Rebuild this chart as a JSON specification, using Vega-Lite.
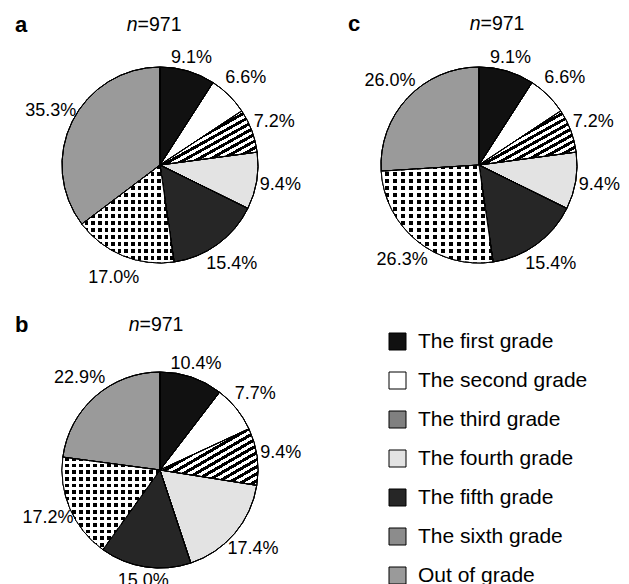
{
  "$schema": "https://vega.github.io/schema/vega-lite/v6.json",
  "background": "white",
  "padding": {"left": 15, "top": 13, "right": 0, "bottom": 0},
  "bounds": "flush",
  "columns": 2,
  "spacing": {"row": 109, "column": 123},
  "resolve": {
    "scale": {"color": "independent", "theta": "independent"},
    "legend": {"color": "independent"}
  },
  "config": {"view": {"stroke": null}, "font": "Liberation Sans"},
  "concat": [
    {
      "title": {"text": "a", "anchor": "start", "frame": "group", "font": "Liberation Sans", "fontSize": 22, "fontWeight": "bold", "color": "black", "dx": -47, "dy": 22, "offset": 0},
      "width": 196,
      "height": 196,
      "data": {"values": [
        {"grade": "The first grade", "ord": 1, "share": 0.091},
        {"grade": "The second grade", "ord": 2, "share": 0.066},
        {"grade": "The third grade", "ord": 3, "share": 0.072},
        {"grade": "The fourth grade", "ord": 4, "share": 0.094},
        {"grade": "The fifth grade", "ord": 5, "share": 0.154},
        {"grade": "The sixth grade", "ord": 6, "share": 0.170},
        {"grade": "Out of grade", "ord": 7, "share": 0.353}
      ]},
      "layer": [
        {
          "mark": {"type": "arc", "stroke": "black", "strokeWidth": 1},
          "encoding": {
            "theta": {"field": "share", "type": "quantitative", "stack": true},
            "order": {"field": "ord", "type": "quantitative"},
            "color": {"field": "grade", "type": "nominal", "legend": null,
              "scale": {"domain": ["The first grade","The second grade","The third grade","The fourth grade","The fifth grade","The sixth grade","Out of grade"],
                "range": ["#111111","#ffffff","#808080","#e3e3e3","#262626","#8c8c8c","#9a9a9a"]}}
          }
        },
        {
          "mark": {"type": "arc", "stroke": "black", "strokeWidth": 1},
          "encoding": {
            "theta": {"field": "share", "type": "quantitative", "stack": true},
            "order": {"field": "ord", "type": "quantitative"},
            "color": {"condition": [
              {"test": "datum.ord === 3", "value": {"gradient": "linear", "x1": 0, "y1": 0, "x2": 1, "y2": 1, "stops": [{"offset":0,"color":"#000"},{"offset":0.03125,"color":"#000"},{"offset":0.03125,"color":"#fff"},{"offset":0.0625,"color":"#fff"},{"offset":0.0625,"color":"#000"},{"offset":0.09375,"color":"#000"},{"offset":0.09375,"color":"#fff"},{"offset":0.125,"color":"#fff"},{"offset":0.125,"color":"#000"},{"offset":0.15625,"color":"#000"},{"offset":0.15625,"color":"#fff"},{"offset":0.1875,"color":"#fff"},{"offset":0.1875,"color":"#000"},{"offset":0.21875,"color":"#000"},{"offset":0.21875,"color":"#fff"},{"offset":0.25,"color":"#fff"},{"offset":0.25,"color":"#000"},{"offset":0.28125,"color":"#000"},{"offset":0.28125,"color":"#fff"},{"offset":0.3125,"color":"#fff"},{"offset":0.3125,"color":"#000"},{"offset":0.34375,"color":"#000"},{"offset":0.34375,"color":"#fff"},{"offset":0.375,"color":"#fff"},{"offset":0.375,"color":"#000"},{"offset":0.40625,"color":"#000"},{"offset":0.40625,"color":"#fff"},{"offset":0.4375,"color":"#fff"},{"offset":0.4375,"color":"#000"},{"offset":0.46875,"color":"#000"},{"offset":0.46875,"color":"#fff"},{"offset":0.5,"color":"#fff"},{"offset":0.5,"color":"#000"},{"offset":0.53125,"color":"#000"},{"offset":0.53125,"color":"#fff"},{"offset":0.5625,"color":"#fff"},{"offset":0.5625,"color":"#000"},{"offset":0.59375,"color":"#000"},{"offset":0.59375,"color":"#fff"},{"offset":0.625,"color":"#fff"},{"offset":0.625,"color":"#000"},{"offset":0.65625,"color":"#000"},{"offset":0.65625,"color":"#fff"},{"offset":0.6875,"color":"#fff"},{"offset":0.6875,"color":"#000"},{"offset":0.71875,"color":"#000"},{"offset":0.71875,"color":"#fff"},{"offset":0.75,"color":"#fff"},{"offset":0.75,"color":"#000"},{"offset":0.78125,"color":"#000"},{"offset":0.78125,"color":"#fff"},{"offset":0.8125,"color":"#fff"},{"offset":0.8125,"color":"#000"},{"offset":0.84375,"color":"#000"},{"offset":0.84375,"color":"#fff"},{"offset":0.875,"color":"#fff"},{"offset":0.875,"color":"#000"},{"offset":0.90625,"color":"#000"},{"offset":0.90625,"color":"#fff"},{"offset":0.9375,"color":"#fff"},{"offset":0.9375,"color":"#000"},{"offset":0.96875,"color":"#000"},{"offset":0.96875,"color":"#fff"},{"offset":1,"color":"#fff"}]}},
              {"test": "datum.ord === 6", "value": {"gradient": "linear", "x1": 0, "y1": 0, "x2": 0, "y2": 1, "stops": [{"offset":0,"color":"#000"},{"offset":0.039286,"color":"#000"},{"offset":0.039286,"color":"#fff"},{"offset":0.071429,"color":"#fff"},{"offset":0.071429,"color":"#000"},{"offset":0.110714,"color":"#000"},{"offset":0.110714,"color":"#fff"},{"offset":0.142857,"color":"#fff"},{"offset":0.142857,"color":"#000"},{"offset":0.182143,"color":"#000"},{"offset":0.182143,"color":"#fff"},{"offset":0.214286,"color":"#fff"},{"offset":0.214286,"color":"#000"},{"offset":0.253571,"color":"#000"},{"offset":0.253571,"color":"#fff"},{"offset":0.285714,"color":"#fff"},{"offset":0.285714,"color":"#000"},{"offset":0.325,"color":"#000"},{"offset":0.325,"color":"#fff"},{"offset":0.357143,"color":"#fff"},{"offset":0.357143,"color":"#000"},{"offset":0.396429,"color":"#000"},{"offset":0.396429,"color":"#fff"},{"offset":0.428571,"color":"#fff"},{"offset":0.428571,"color":"#000"},{"offset":0.467857,"color":"#000"},{"offset":0.467857,"color":"#fff"},{"offset":0.5,"color":"#fff"},{"offset":0.5,"color":"#000"},{"offset":0.539286,"color":"#000"},{"offset":0.539286,"color":"#fff"},{"offset":0.571429,"color":"#fff"},{"offset":0.571429,"color":"#000"},{"offset":0.610714,"color":"#000"},{"offset":0.610714,"color":"#fff"},{"offset":0.642857,"color":"#fff"},{"offset":0.642857,"color":"#000"},{"offset":0.682143,"color":"#000"},{"offset":0.682143,"color":"#fff"},{"offset":0.714286,"color":"#fff"},{"offset":0.714286,"color":"#000"},{"offset":0.753571,"color":"#000"},{"offset":0.753571,"color":"#fff"},{"offset":0.785714,"color":"#fff"},{"offset":0.785714,"color":"#000"},{"offset":0.825,"color":"#000"},{"offset":0.825,"color":"#fff"},{"offset":0.857143,"color":"#fff"},{"offset":0.857143,"color":"#000"},{"offset":0.896429,"color":"#000"},{"offset":0.896429,"color":"#fff"},{"offset":0.928571,"color":"#fff"},{"offset":0.928571,"color":"#000"},{"offset":0.967857,"color":"#000"},{"offset":0.967857,"color":"#fff"},{"offset":1,"color":"#fff"}]}}
            ], "value": "rgba(255,255,255,0)"}
          }
        },
        {
          "mark": {"type": "arc", "stroke": "black", "strokeWidth": 1},
          "encoding": {
            "theta": {"field": "share", "type": "quantitative", "stack": true},
            "order": {"field": "ord", "type": "quantitative"},
            "color": {"condition": {"test": "datum.ord === 6", "value": {"gradient": "linear", "x1": 0, "y1": 0, "x2": 1, "y2": 0, "stops": [{"offset":0,"color":"#fff"},{"offset":0.032143,"color":"#fff"},{"offset":0.032143,"color":"rgba(255,255,255,0)"},{"offset":0.071429,"color":"rgba(255,255,255,0)"},{"offset":0.071429,"color":"#fff"},{"offset":0.103571,"color":"#fff"},{"offset":0.103571,"color":"rgba(255,255,255,0)"},{"offset":0.142857,"color":"rgba(255,255,255,0)"},{"offset":0.142857,"color":"#fff"},{"offset":0.175,"color":"#fff"},{"offset":0.175,"color":"rgba(255,255,255,0)"},{"offset":0.214286,"color":"rgba(255,255,255,0)"},{"offset":0.214286,"color":"#fff"},{"offset":0.246429,"color":"#fff"},{"offset":0.246429,"color":"rgba(255,255,255,0)"},{"offset":0.285714,"color":"rgba(255,255,255,0)"},{"offset":0.285714,"color":"#fff"},{"offset":0.317857,"color":"#fff"},{"offset":0.317857,"color":"rgba(255,255,255,0)"},{"offset":0.357143,"color":"rgba(255,255,255,0)"},{"offset":0.357143,"color":"#fff"},{"offset":0.389286,"color":"#fff"},{"offset":0.389286,"color":"rgba(255,255,255,0)"},{"offset":0.428571,"color":"rgba(255,255,255,0)"},{"offset":0.428571,"color":"#fff"},{"offset":0.460714,"color":"#fff"},{"offset":0.460714,"color":"rgba(255,255,255,0)"},{"offset":0.5,"color":"rgba(255,255,255,0)"},{"offset":0.5,"color":"#fff"},{"offset":0.532143,"color":"#fff"},{"offset":0.532143,"color":"rgba(255,255,255,0)"},{"offset":0.571429,"color":"rgba(255,255,255,0)"},{"offset":0.571429,"color":"#fff"},{"offset":0.603571,"color":"#fff"},{"offset":0.603571,"color":"rgba(255,255,255,0)"},{"offset":0.642857,"color":"rgba(255,255,255,0)"},{"offset":0.642857,"color":"#fff"},{"offset":0.675,"color":"#fff"},{"offset":0.675,"color":"rgba(255,255,255,0)"},{"offset":0.714286,"color":"rgba(255,255,255,0)"},{"offset":0.714286,"color":"#fff"},{"offset":0.746429,"color":"#fff"},{"offset":0.746429,"color":"rgba(255,255,255,0)"},{"offset":0.785714,"color":"rgba(255,255,255,0)"},{"offset":0.785714,"color":"#fff"},{"offset":0.817857,"color":"#fff"},{"offset":0.817857,"color":"rgba(255,255,255,0)"},{"offset":0.857143,"color":"rgba(255,255,255,0)"},{"offset":0.857143,"color":"#fff"},{"offset":0.889286,"color":"#fff"},{"offset":0.889286,"color":"rgba(255,255,255,0)"},{"offset":0.928571,"color":"rgba(255,255,255,0)"},{"offset":0.928571,"color":"#fff"},{"offset":0.960714,"color":"#fff"},{"offset":0.960714,"color":"rgba(255,255,255,0)"},{"offset":1,"color":"rgba(255,255,255,0)"}]}}, "value": "rgba(255,255,255,0)"}
          }
        },
        {
          "mark": {"type": "text", "radius": 122, "fontSize": 18, "font": "Liberation Sans", "color": "black"},
          "encoding": {
            "theta": {"field": "share", "type": "quantitative", "stack": true},
            "order": {"field": "ord", "type": "quantitative"},
            "text": {"field": "share", "type": "quantitative", "format": ".1%"},
            "opacity": {"condition": {"test": "abs(cos(PI * (datum.share_start + datum.share_end))) > 0.94", "value": 0}, "value": 1}
          }
        },
        {
          "mark": {"type": "text", "radius": 112, "fontSize": 18, "font": "Liberation Sans", "color": "black"},
          "encoding": {
            "theta": {"field": "share", "type": "quantitative", "stack": true},
            "order": {"field": "ord", "type": "quantitative"},
            "text": {"field": "share", "type": "quantitative", "format": ".1%"},
            "opacity": {"condition": {"test": "abs(cos(PI * (datum.share_start + datum.share_end))) > 0.94", "value": 1}, "value": 0}
          }
        },
        {
          "data": {"values": [{"sym": "n", "val": "=971"}]},
          "layer": [
            {"mark": {"type": "text", "align": "right", "fontStyle": "italic", "fontSize": 19.5, "font": "Liberation Sans", "color": "black"},
             "encoding": {"text": {"field": "sym"}, "theta": {"value": -0.159}, "radius": {"value": 141.8}}},
            {"mark": {"type": "text", "align": "left", "fontSize": 19.5, "font": "Liberation Sans", "color": "black"},
             "encoding": {"text": {"field": "val"}, "theta": {"value": -0.159}, "radius": {"value": 141.8}}}
          ]
        }
      ]
    },
    {
      "title": {"text": "c", "anchor": "start", "frame": "group", "font": "Liberation Sans", "fontSize": 22, "fontWeight": "bold", "color": "black", "dx": -33, "dy": 22, "offset": 0},
      "width": 196,
      "height": 196,
      "data": {"values": [
        {"grade": "The first grade", "ord": 1, "share": 0.091},
        {"grade": "The second grade", "ord": 2, "share": 0.066},
        {"grade": "The third grade", "ord": 3, "share": 0.072},
        {"grade": "The fourth grade", "ord": 4, "share": 0.094},
        {"grade": "The fifth grade", "ord": 5, "share": 0.154},
        {"grade": "The sixth grade", "ord": 6, "share": 0.263},
        {"grade": "Out of grade", "ord": 7, "share": 0.260}
      ]},
      "layer": [
        {
          "mark": {"type": "arc", "stroke": "black", "strokeWidth": 1},
          "encoding": {
            "theta": {"field": "share", "type": "quantitative", "stack": true},
            "order": {"field": "ord", "type": "quantitative"},
            "color": {"field": "grade", "type": "nominal", "legend": null,
              "scale": {"domain": ["The first grade","The second grade","The third grade","The fourth grade","The fifth grade","The sixth grade","Out of grade"],
                "range": ["#111111","#ffffff","#808080","#e3e3e3","#262626","#8c8c8c","#9a9a9a"]}}
          }
        },
        {
          "mark": {"type": "arc", "stroke": "black", "strokeWidth": 1},
          "encoding": {
            "theta": {"field": "share", "type": "quantitative", "stack": true},
            "order": {"field": "ord", "type": "quantitative"},
            "color": {"condition": [
              {"test": "datum.ord === 3", "value": {"gradient": "linear", "x1": 0, "y1": 0, "x2": 1, "y2": 1, "stops": [{"offset":0,"color":"#000"},{"offset":0.03125,"color":"#000"},{"offset":0.03125,"color":"#fff"},{"offset":0.0625,"color":"#fff"},{"offset":0.0625,"color":"#000"},{"offset":0.09375,"color":"#000"},{"offset":0.09375,"color":"#fff"},{"offset":0.125,"color":"#fff"},{"offset":0.125,"color":"#000"},{"offset":0.15625,"color":"#000"},{"offset":0.15625,"color":"#fff"},{"offset":0.1875,"color":"#fff"},{"offset":0.1875,"color":"#000"},{"offset":0.21875,"color":"#000"},{"offset":0.21875,"color":"#fff"},{"offset":0.25,"color":"#fff"},{"offset":0.25,"color":"#000"},{"offset":0.28125,"color":"#000"},{"offset":0.28125,"color":"#fff"},{"offset":0.3125,"color":"#fff"},{"offset":0.3125,"color":"#000"},{"offset":0.34375,"color":"#000"},{"offset":0.34375,"color":"#fff"},{"offset":0.375,"color":"#fff"},{"offset":0.375,"color":"#000"},{"offset":0.40625,"color":"#000"},{"offset":0.40625,"color":"#fff"},{"offset":0.4375,"color":"#fff"},{"offset":0.4375,"color":"#000"},{"offset":0.46875,"color":"#000"},{"offset":0.46875,"color":"#fff"},{"offset":0.5,"color":"#fff"},{"offset":0.5,"color":"#000"},{"offset":0.53125,"color":"#000"},{"offset":0.53125,"color":"#fff"},{"offset":0.5625,"color":"#fff"},{"offset":0.5625,"color":"#000"},{"offset":0.59375,"color":"#000"},{"offset":0.59375,"color":"#fff"},{"offset":0.625,"color":"#fff"},{"offset":0.625,"color":"#000"},{"offset":0.65625,"color":"#000"},{"offset":0.65625,"color":"#fff"},{"offset":0.6875,"color":"#fff"},{"offset":0.6875,"color":"#000"},{"offset":0.71875,"color":"#000"},{"offset":0.71875,"color":"#fff"},{"offset":0.75,"color":"#fff"},{"offset":0.75,"color":"#000"},{"offset":0.78125,"color":"#000"},{"offset":0.78125,"color":"#fff"},{"offset":0.8125,"color":"#fff"},{"offset":0.8125,"color":"#000"},{"offset":0.84375,"color":"#000"},{"offset":0.84375,"color":"#fff"},{"offset":0.875,"color":"#fff"},{"offset":0.875,"color":"#000"},{"offset":0.90625,"color":"#000"},{"offset":0.90625,"color":"#fff"},{"offset":0.9375,"color":"#fff"},{"offset":0.9375,"color":"#000"},{"offset":0.96875,"color":"#000"},{"offset":0.96875,"color":"#fff"},{"offset":1,"color":"#fff"}]}},
              {"test": "datum.ord === 6", "value": {"gradient": "linear", "x1": 0, "y1": 0, "x2": 0, "y2": 1, "stops": [{"offset":0,"color":"#000"},{"offset":0.039286,"color":"#000"},{"offset":0.039286,"color":"#fff"},{"offset":0.071429,"color":"#fff"},{"offset":0.071429,"color":"#000"},{"offset":0.110714,"color":"#000"},{"offset":0.110714,"color":"#fff"},{"offset":0.142857,"color":"#fff"},{"offset":0.142857,"color":"#000"},{"offset":0.182143,"color":"#000"},{"offset":0.182143,"color":"#fff"},{"offset":0.214286,"color":"#fff"},{"offset":0.214286,"color":"#000"},{"offset":0.253571,"color":"#000"},{"offset":0.253571,"color":"#fff"},{"offset":0.285714,"color":"#fff"},{"offset":0.285714,"color":"#000"},{"offset":0.325,"color":"#000"},{"offset":0.325,"color":"#fff"},{"offset":0.357143,"color":"#fff"},{"offset":0.357143,"color":"#000"},{"offset":0.396429,"color":"#000"},{"offset":0.396429,"color":"#fff"},{"offset":0.428571,"color":"#fff"},{"offset":0.428571,"color":"#000"},{"offset":0.467857,"color":"#000"},{"offset":0.467857,"color":"#fff"},{"offset":0.5,"color":"#fff"},{"offset":0.5,"color":"#000"},{"offset":0.539286,"color":"#000"},{"offset":0.539286,"color":"#fff"},{"offset":0.571429,"color":"#fff"},{"offset":0.571429,"color":"#000"},{"offset":0.610714,"color":"#000"},{"offset":0.610714,"color":"#fff"},{"offset":0.642857,"color":"#fff"},{"offset":0.642857,"color":"#000"},{"offset":0.682143,"color":"#000"},{"offset":0.682143,"color":"#fff"},{"offset":0.714286,"color":"#fff"},{"offset":0.714286,"color":"#000"},{"offset":0.753571,"color":"#000"},{"offset":0.753571,"color":"#fff"},{"offset":0.785714,"color":"#fff"},{"offset":0.785714,"color":"#000"},{"offset":0.825,"color":"#000"},{"offset":0.825,"color":"#fff"},{"offset":0.857143,"color":"#fff"},{"offset":0.857143,"color":"#000"},{"offset":0.896429,"color":"#000"},{"offset":0.896429,"color":"#fff"},{"offset":0.928571,"color":"#fff"},{"offset":0.928571,"color":"#000"},{"offset":0.967857,"color":"#000"},{"offset":0.967857,"color":"#fff"},{"offset":1,"color":"#fff"}]}}
            ], "value": "rgba(255,255,255,0)"}
          }
        },
        {
          "mark": {"type": "arc", "stroke": "black", "strokeWidth": 1},
          "encoding": {
            "theta": {"field": "share", "type": "quantitative", "stack": true},
            "order": {"field": "ord", "type": "quantitative"},
            "color": {"condition": {"test": "datum.ord === 6", "value": {"gradient": "linear", "x1": 0, "y1": 0, "x2": 1, "y2": 0, "stops": [{"offset":0,"color":"#fff"},{"offset":0.032143,"color":"#fff"},{"offset":0.032143,"color":"rgba(255,255,255,0)"},{"offset":0.071429,"color":"rgba(255,255,255,0)"},{"offset":0.071429,"color":"#fff"},{"offset":0.103571,"color":"#fff"},{"offset":0.103571,"color":"rgba(255,255,255,0)"},{"offset":0.142857,"color":"rgba(255,255,255,0)"},{"offset":0.142857,"color":"#fff"},{"offset":0.175,"color":"#fff"},{"offset":0.175,"color":"rgba(255,255,255,0)"},{"offset":0.214286,"color":"rgba(255,255,255,0)"},{"offset":0.214286,"color":"#fff"},{"offset":0.246429,"color":"#fff"},{"offset":0.246429,"color":"rgba(255,255,255,0)"},{"offset":0.285714,"color":"rgba(255,255,255,0)"},{"offset":0.285714,"color":"#fff"},{"offset":0.317857,"color":"#fff"},{"offset":0.317857,"color":"rgba(255,255,255,0)"},{"offset":0.357143,"color":"rgba(255,255,255,0)"},{"offset":0.357143,"color":"#fff"},{"offset":0.389286,"color":"#fff"},{"offset":0.389286,"color":"rgba(255,255,255,0)"},{"offset":0.428571,"color":"rgba(255,255,255,0)"},{"offset":0.428571,"color":"#fff"},{"offset":0.460714,"color":"#fff"},{"offset":0.460714,"color":"rgba(255,255,255,0)"},{"offset":0.5,"color":"rgba(255,255,255,0)"},{"offset":0.5,"color":"#fff"},{"offset":0.532143,"color":"#fff"},{"offset":0.532143,"color":"rgba(255,255,255,0)"},{"offset":0.571429,"color":"rgba(255,255,255,0)"},{"offset":0.571429,"color":"#fff"},{"offset":0.603571,"color":"#fff"},{"offset":0.603571,"color":"rgba(255,255,255,0)"},{"offset":0.642857,"color":"rgba(255,255,255,0)"},{"offset":0.642857,"color":"#fff"},{"offset":0.675,"color":"#fff"},{"offset":0.675,"color":"rgba(255,255,255,0)"},{"offset":0.714286,"color":"rgba(255,255,255,0)"},{"offset":0.714286,"color":"#fff"},{"offset":0.746429,"color":"#fff"},{"offset":0.746429,"color":"rgba(255,255,255,0)"},{"offset":0.785714,"color":"rgba(255,255,255,0)"},{"offset":0.785714,"color":"#fff"},{"offset":0.817857,"color":"#fff"},{"offset":0.817857,"color":"rgba(255,255,255,0)"},{"offset":0.857143,"color":"rgba(255,255,255,0)"},{"offset":0.857143,"color":"#fff"},{"offset":0.889286,"color":"#fff"},{"offset":0.889286,"color":"rgba(255,255,255,0)"},{"offset":0.928571,"color":"rgba(255,255,255,0)"},{"offset":0.928571,"color":"#fff"},{"offset":0.960714,"color":"#fff"},{"offset":0.960714,"color":"rgba(255,255,255,0)"},{"offset":1,"color":"rgba(255,255,255,0)"}]}}, "value": "rgba(255,255,255,0)"}
          }
        },
        {
          "mark": {"type": "text", "radius": 122, "fontSize": 18, "font": "Liberation Sans", "color": "black"},
          "encoding": {
            "theta": {"field": "share", "type": "quantitative", "stack": true},
            "order": {"field": "ord", "type": "quantitative"},
            "text": {"field": "share", "type": "quantitative", "format": ".1%"},
            "opacity": {"condition": {"test": "abs(cos(PI * (datum.share_start + datum.share_end))) > 0.94", "value": 0}, "value": 1}
          }
        },
        {
          "mark": {"type": "text", "radius": 112, "fontSize": 18, "font": "Liberation Sans", "color": "black"},
          "encoding": {
            "theta": {"field": "share", "type": "quantitative", "stack": true},
            "order": {"field": "ord", "type": "quantitative"},
            "text": {"field": "share", "type": "quantitative", "format": ".1%"},
            "opacity": {"condition": {"test": "abs(cos(PI * (datum.share_start + datum.share_end))) > 0.94", "value": 1}, "value": 0}
          }
        },
        {
          "data": {"values": [{"sym": "n", "val": "=971"}]},
          "layer": [
            {"mark": {"type": "text", "align": "right", "fontStyle": "italic", "fontSize": 19.5, "font": "Liberation Sans", "color": "black"},
             "encoding": {"text": {"field": "sym"}, "theta": {"value": 0.0106}, "radius": {"value": 141}}},
            {"mark": {"type": "text", "align": "left", "fontSize": 19.5, "font": "Liberation Sans", "color": "black"},
             "encoding": {"text": {"field": "val"}, "theta": {"value": 0.0106}, "radius": {"value": 141}}}
          ]
        }
      ]
    },
    {
      "title": {"text": "b", "anchor": "start", "frame": "group", "font": "Liberation Sans", "fontSize": 22, "fontWeight": "bold", "color": "black", "dx": -47, "dy": 22, "offset": 0},
      "width": 196,
      "height": 196,
      "data": {"values": [
        {"grade": "The first grade", "ord": 1, "share": 0.104},
        {"grade": "The second grade", "ord": 2, "share": 0.077},
        {"grade": "The third grade", "ord": 3, "share": 0.094},
        {"grade": "The fourth grade", "ord": 4, "share": 0.174},
        {"grade": "The fifth grade", "ord": 5, "share": 0.150},
        {"grade": "The sixth grade", "ord": 6, "share": 0.172},
        {"grade": "Out of grade", "ord": 7, "share": 0.229}
      ]},
      "layer": [
        {
          "mark": {"type": "arc", "stroke": "black", "strokeWidth": 1},
          "encoding": {
            "theta": {"field": "share", "type": "quantitative", "stack": true},
            "order": {"field": "ord", "type": "quantitative"},
            "color": {"field": "grade", "type": "nominal",
              "legend": {"orient": "none", "legendX": 325, "legendY": -41, "title": null, "symbolType": "square", "symbolSize": 289, "symbolStrokeColor": "black", "symbolStrokeWidth": 1, "labelFontSize": 21, "labelFont": "Liberation Sans", "labelColor": "black", "labelOffset": 10, "rowPadding": 17, "labelLimit": 0,
                "encode": {"symbols": {"update": {
                  "stroke": {"value": "black"},
                  "strokeWidth": {"value": 1},
                  "opacity": {"value": 1},
                  "fill": [
                  {"test": "datum.value === 'The first grade'", "value": "#111111"},
                  {"test": "datum.value === 'The second grade'", "value": "#ffffff"},
                  {"test": "datum.value === 'The third grade'", "value": {"gradient": "linear", "x1": 0, "y1": 0, "x2": 1, "y2": 1, "stops": [{"offset":0,"color":"#000"},{"offset":0.0625,"color":"#000"},{"offset":0.0625,"color":"#fff"},{"offset":0.125,"color":"#fff"},{"offset":0.125,"color":"#000"},{"offset":0.1875,"color":"#000"},{"offset":0.1875,"color":"#fff"},{"offset":0.25,"color":"#fff"},{"offset":0.25,"color":"#000"},{"offset":0.3125,"color":"#000"},{"offset":0.3125,"color":"#fff"},{"offset":0.375,"color":"#fff"},{"offset":0.375,"color":"#000"},{"offset":0.4375,"color":"#000"},{"offset":0.4375,"color":"#fff"},{"offset":0.5,"color":"#fff"},{"offset":0.5,"color":"#000"},{"offset":0.5625,"color":"#000"},{"offset":0.5625,"color":"#fff"},{"offset":0.625,"color":"#fff"},{"offset":0.625,"color":"#000"},{"offset":0.6875,"color":"#000"},{"offset":0.6875,"color":"#fff"},{"offset":0.75,"color":"#fff"},{"offset":0.75,"color":"#000"},{"offset":0.8125,"color":"#000"},{"offset":0.8125,"color":"#fff"},{"offset":0.875,"color":"#fff"},{"offset":0.875,"color":"#000"},{"offset":0.9375,"color":"#000"},{"offset":0.9375,"color":"#fff"},{"offset":1,"color":"#fff"}]}},
                  {"test": "datum.value === 'The fourth grade'", "value": "#e3e3e3"},
                  {"test": "datum.value === 'The fifth grade'", "value": "#262626"},
                  {"test": "datum.value === 'The sixth grade'", "value": "#8c8c8c"},
                  {"value": "#9a9a9a"}
                ]}}}},
              "scale": {"domain": ["The first grade","The second grade","The third grade","The fourth grade","The fifth grade","The sixth grade","Out of grade"],
                "range": ["#111111","#ffffff","#808080","#e3e3e3","#262626","#8c8c8c","#9a9a9a"]}}
          }
        },
        {
          "mark": {"type": "arc", "stroke": "black", "strokeWidth": 1},
          "encoding": {
            "theta": {"field": "share", "type": "quantitative", "stack": true},
            "order": {"field": "ord", "type": "quantitative"},
            "color": {"condition": [
              {"test": "datum.ord === 3", "value": {"gradient": "linear", "x1": 0, "y1": 0, "x2": 1, "y2": 1, "stops": [{"offset":0,"color":"#000"},{"offset":0.03125,"color":"#000"},{"offset":0.03125,"color":"#fff"},{"offset":0.0625,"color":"#fff"},{"offset":0.0625,"color":"#000"},{"offset":0.09375,"color":"#000"},{"offset":0.09375,"color":"#fff"},{"offset":0.125,"color":"#fff"},{"offset":0.125,"color":"#000"},{"offset":0.15625,"color":"#000"},{"offset":0.15625,"color":"#fff"},{"offset":0.1875,"color":"#fff"},{"offset":0.1875,"color":"#000"},{"offset":0.21875,"color":"#000"},{"offset":0.21875,"color":"#fff"},{"offset":0.25,"color":"#fff"},{"offset":0.25,"color":"#000"},{"offset":0.28125,"color":"#000"},{"offset":0.28125,"color":"#fff"},{"offset":0.3125,"color":"#fff"},{"offset":0.3125,"color":"#000"},{"offset":0.34375,"color":"#000"},{"offset":0.34375,"color":"#fff"},{"offset":0.375,"color":"#fff"},{"offset":0.375,"color":"#000"},{"offset":0.40625,"color":"#000"},{"offset":0.40625,"color":"#fff"},{"offset":0.4375,"color":"#fff"},{"offset":0.4375,"color":"#000"},{"offset":0.46875,"color":"#000"},{"offset":0.46875,"color":"#fff"},{"offset":0.5,"color":"#fff"},{"offset":0.5,"color":"#000"},{"offset":0.53125,"color":"#000"},{"offset":0.53125,"color":"#fff"},{"offset":0.5625,"color":"#fff"},{"offset":0.5625,"color":"#000"},{"offset":0.59375,"color":"#000"},{"offset":0.59375,"color":"#fff"},{"offset":0.625,"color":"#fff"},{"offset":0.625,"color":"#000"},{"offset":0.65625,"color":"#000"},{"offset":0.65625,"color":"#fff"},{"offset":0.6875,"color":"#fff"},{"offset":0.6875,"color":"#000"},{"offset":0.71875,"color":"#000"},{"offset":0.71875,"color":"#fff"},{"offset":0.75,"color":"#fff"},{"offset":0.75,"color":"#000"},{"offset":0.78125,"color":"#000"},{"offset":0.78125,"color":"#fff"},{"offset":0.8125,"color":"#fff"},{"offset":0.8125,"color":"#000"},{"offset":0.84375,"color":"#000"},{"offset":0.84375,"color":"#fff"},{"offset":0.875,"color":"#fff"},{"offset":0.875,"color":"#000"},{"offset":0.90625,"color":"#000"},{"offset":0.90625,"color":"#fff"},{"offset":0.9375,"color":"#fff"},{"offset":0.9375,"color":"#000"},{"offset":0.96875,"color":"#000"},{"offset":0.96875,"color":"#fff"},{"offset":1,"color":"#fff"}]}},
              {"test": "datum.ord === 6", "value": {"gradient": "linear", "x1": 0, "y1": 0, "x2": 0, "y2": 1, "stops": [{"offset":0,"color":"#000"},{"offset":0.039286,"color":"#000"},{"offset":0.039286,"color":"#fff"},{"offset":0.071429,"color":"#fff"},{"offset":0.071429,"color":"#000"},{"offset":0.110714,"color":"#000"},{"offset":0.110714,"color":"#fff"},{"offset":0.142857,"color":"#fff"},{"offset":0.142857,"color":"#000"},{"offset":0.182143,"color":"#000"},{"offset":0.182143,"color":"#fff"},{"offset":0.214286,"color":"#fff"},{"offset":0.214286,"color":"#000"},{"offset":0.253571,"color":"#000"},{"offset":0.253571,"color":"#fff"},{"offset":0.285714,"color":"#fff"},{"offset":0.285714,"color":"#000"},{"offset":0.325,"color":"#000"},{"offset":0.325,"color":"#fff"},{"offset":0.357143,"color":"#fff"},{"offset":0.357143,"color":"#000"},{"offset":0.396429,"color":"#000"},{"offset":0.396429,"color":"#fff"},{"offset":0.428571,"color":"#fff"},{"offset":0.428571,"color":"#000"},{"offset":0.467857,"color":"#000"},{"offset":0.467857,"color":"#fff"},{"offset":0.5,"color":"#fff"},{"offset":0.5,"color":"#000"},{"offset":0.539286,"color":"#000"},{"offset":0.539286,"color":"#fff"},{"offset":0.571429,"color":"#fff"},{"offset":0.571429,"color":"#000"},{"offset":0.610714,"color":"#000"},{"offset":0.610714,"color":"#fff"},{"offset":0.642857,"color":"#fff"},{"offset":0.642857,"color":"#000"},{"offset":0.682143,"color":"#000"},{"offset":0.682143,"color":"#fff"},{"offset":0.714286,"color":"#fff"},{"offset":0.714286,"color":"#000"},{"offset":0.753571,"color":"#000"},{"offset":0.753571,"color":"#fff"},{"offset":0.785714,"color":"#fff"},{"offset":0.785714,"color":"#000"},{"offset":0.825,"color":"#000"},{"offset":0.825,"color":"#fff"},{"offset":0.857143,"color":"#fff"},{"offset":0.857143,"color":"#000"},{"offset":0.896429,"color":"#000"},{"offset":0.896429,"color":"#fff"},{"offset":0.928571,"color":"#fff"},{"offset":0.928571,"color":"#000"},{"offset":0.967857,"color":"#000"},{"offset":0.967857,"color":"#fff"},{"offset":1,"color":"#fff"}]}}
            ], "value": "rgba(255,255,255,0)"}
          }
        },
        {
          "mark": {"type": "arc", "stroke": "black", "strokeWidth": 1},
          "encoding": {
            "theta": {"field": "share", "type": "quantitative", "stack": true},
            "order": {"field": "ord", "type": "quantitative"},
            "color": {"condition": {"test": "datum.ord === 6", "value": {"gradient": "linear", "x1": 0, "y1": 0, "x2": 1, "y2": 0, "stops": [{"offset":0,"color":"#fff"},{"offset":0.032143,"color":"#fff"},{"offset":0.032143,"color":"rgba(255,255,255,0)"},{"offset":0.071429,"color":"rgba(255,255,255,0)"},{"offset":0.071429,"color":"#fff"},{"offset":0.103571,"color":"#fff"},{"offset":0.103571,"color":"rgba(255,255,255,0)"},{"offset":0.142857,"color":"rgba(255,255,255,0)"},{"offset":0.142857,"color":"#fff"},{"offset":0.175,"color":"#fff"},{"offset":0.175,"color":"rgba(255,255,255,0)"},{"offset":0.214286,"color":"rgba(255,255,255,0)"},{"offset":0.214286,"color":"#fff"},{"offset":0.246429,"color":"#fff"},{"offset":0.246429,"color":"rgba(255,255,255,0)"},{"offset":0.285714,"color":"rgba(255,255,255,0)"},{"offset":0.285714,"color":"#fff"},{"offset":0.317857,"color":"#fff"},{"offset":0.317857,"color":"rgba(255,255,255,0)"},{"offset":0.357143,"color":"rgba(255,255,255,0)"},{"offset":0.357143,"color":"#fff"},{"offset":0.389286,"color":"#fff"},{"offset":0.389286,"color":"rgba(255,255,255,0)"},{"offset":0.428571,"color":"rgba(255,255,255,0)"},{"offset":0.428571,"color":"#fff"},{"offset":0.460714,"color":"#fff"},{"offset":0.460714,"color":"rgba(255,255,255,0)"},{"offset":0.5,"color":"rgba(255,255,255,0)"},{"offset":0.5,"color":"#fff"},{"offset":0.532143,"color":"#fff"},{"offset":0.532143,"color":"rgba(255,255,255,0)"},{"offset":0.571429,"color":"rgba(255,255,255,0)"},{"offset":0.571429,"color":"#fff"},{"offset":0.603571,"color":"#fff"},{"offset":0.603571,"color":"rgba(255,255,255,0)"},{"offset":0.642857,"color":"rgba(255,255,255,0)"},{"offset":0.642857,"color":"#fff"},{"offset":0.675,"color":"#fff"},{"offset":0.675,"color":"rgba(255,255,255,0)"},{"offset":0.714286,"color":"rgba(255,255,255,0)"},{"offset":0.714286,"color":"#fff"},{"offset":0.746429,"color":"#fff"},{"offset":0.746429,"color":"rgba(255,255,255,0)"},{"offset":0.785714,"color":"rgba(255,255,255,0)"},{"offset":0.785714,"color":"#fff"},{"offset":0.817857,"color":"#fff"},{"offset":0.817857,"color":"rgba(255,255,255,0)"},{"offset":0.857143,"color":"rgba(255,255,255,0)"},{"offset":0.857143,"color":"#fff"},{"offset":0.889286,"color":"#fff"},{"offset":0.889286,"color":"rgba(255,255,255,0)"},{"offset":0.928571,"color":"rgba(255,255,255,0)"},{"offset":0.928571,"color":"#fff"},{"offset":0.960714,"color":"#fff"},{"offset":0.960714,"color":"rgba(255,255,255,0)"},{"offset":1,"color":"rgba(255,255,255,0)"}]}}, "value": "rgba(255,255,255,0)"}
          }
        },
        {
          "mark": {"type": "text", "radius": 122, "fontSize": 18, "font": "Liberation Sans", "color": "black"},
          "encoding": {
            "theta": {"field": "share", "type": "quantitative", "stack": true},
            "order": {"field": "ord", "type": "quantitative"},
            "text": {"field": "share", "type": "quantitative", "format": ".1%"},
            "opacity": {"condition": {"test": "abs(cos(PI * (datum.share_start + datum.share_end))) > 0.94", "value": 0}, "value": 1}
          }
        },
        {
          "mark": {"type": "text", "radius": 112, "fontSize": 18, "font": "Liberation Sans", "color": "black"},
          "encoding": {
            "theta": {"field": "share", "type": "quantitative", "stack": true},
            "order": {"field": "ord", "type": "quantitative"},
            "text": {"field": "share", "type": "quantitative", "format": ".1%"},
            "opacity": {"condition": {"test": "abs(cos(PI * (datum.share_start + datum.share_end))) > 0.94", "value": 1}, "value": 0}
          }
        },
        {
          "data": {"values": [{"sym": "n", "val": "=971"}]},
          "layer": [
            {"mark": {"type": "text", "align": "right", "fontStyle": "italic", "fontSize": 19.5, "font": "Liberation Sans", "color": "black"},
             "encoding": {"text": {"field": "sym"}, "theta": {"value": -0.1405}, "radius": {"value": 146.4}}},
            {"mark": {"type": "text", "align": "left", "fontSize": 19.5, "font": "Liberation Sans", "color": "black"},
             "encoding": {"text": {"field": "val"}, "theta": {"value": -0.1405}, "radius": {"value": 146.4}}}
          ]
        }
      ]
    }
  ]
}
